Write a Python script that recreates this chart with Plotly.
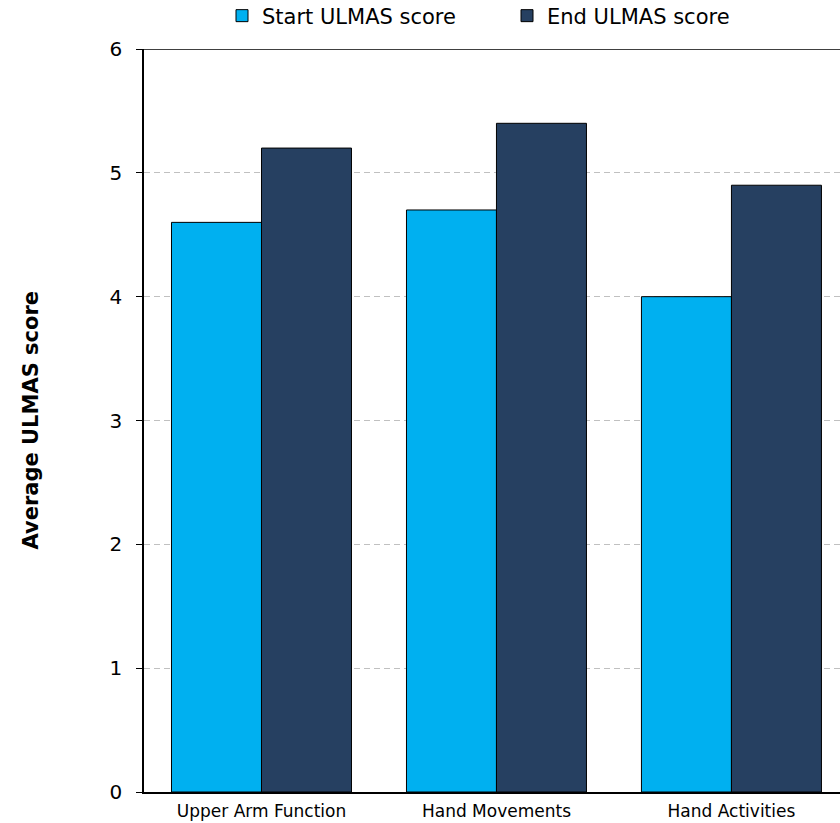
import plotly.graph_objects as go

categories = ["Upper Arm Function", "Hand Movements", "Hand Activities"]
start_scores = [4.6, 4.7, 4.0]
end_scores = [5.2, 5.4, 4.9]
series_names = ["Start ULMAS score", "End ULMAS score"]
y_ticks = [0, 1, 2, 3, 4, 5, 6]

FONT = "DejaVu Sans"

fig = go.Figure()
fig.add_trace(go.Bar(x=categories, y=start_scores, name=series_names[0], legend="legend",
                     marker=dict(color="#00B0F0", line=dict(color="#000000", width=1))))
fig.add_trace(go.Bar(x=categories, y=end_scores, name=series_names[1], legend="legend2",
                     marker=dict(color="#264061", line=dict(color="#000000", width=1))))

W, H = 840, 823
leg_common = dict(orientation="h", yanchor="middle", xanchor="left",
                  xref="container", yref="container",
                  font=dict(size=21, family=FONT), itemwidth=30, bgcolor="rgba(0,0,0,0)")

fig.update_layout(
    width=W, height=H,
    margin=dict(l=144, r=0, t=49, b=31, autoexpand=False),
    paper_bgcolor="white", plot_bgcolor="white",
    barmode="group", bargap=0.234, bargroupgap=0,
    font=dict(family=FONT, color="#000000"),
    showlegend=True,
    legend=dict(x=222 / W, y=1 - 16 / H, **leg_common),
    legend2=dict(x=507 / W, y=1 - 16 / H, **leg_common),
    xaxis=dict(range=[-0.5, 2.462], showline=True, linecolor="#000000", linewidth=1.5,
               ticks="", tickfont=dict(size=17, family=FONT), showgrid=False,
               ticklabelstandoff=3, fixedrange=True, automargin=False),
    yaxis=dict(range=[0, 6], tickvals=y_ticks, showline=True, linecolor="#000000",
               linewidth=1.5, ticks="outside", ticklen=6, tickcolor="#000000",
               tickfont=dict(size=20, family=FONT), ticklabelstandoff=10,
               showgrid=True, gridcolor="#C0C0C0", griddash="6px,4px", gridwidth=1,
               zeroline=False, fixedrange=True, automargin=False),
    annotations=[dict(text="<b>Average ULMAS score</b>", xref="paper", yref="paper",
                      x=0, y=0.5, xshift=-114, textangle=-90, showarrow=False,
                      font=dict(size=21, family=FONT), xanchor="center", yanchor="middle")],
    shapes=[dict(type="line", xref="paper", yref="y", x0=0, x1=1, y0=6, y1=6,
                 line=dict(color="#000000", width=1.5))],
)

fig.write_html("out.html", config={"displayModeBar": False},
               post_script="document.body.style.margin='0';document.body.style.overflow='hidden';")
